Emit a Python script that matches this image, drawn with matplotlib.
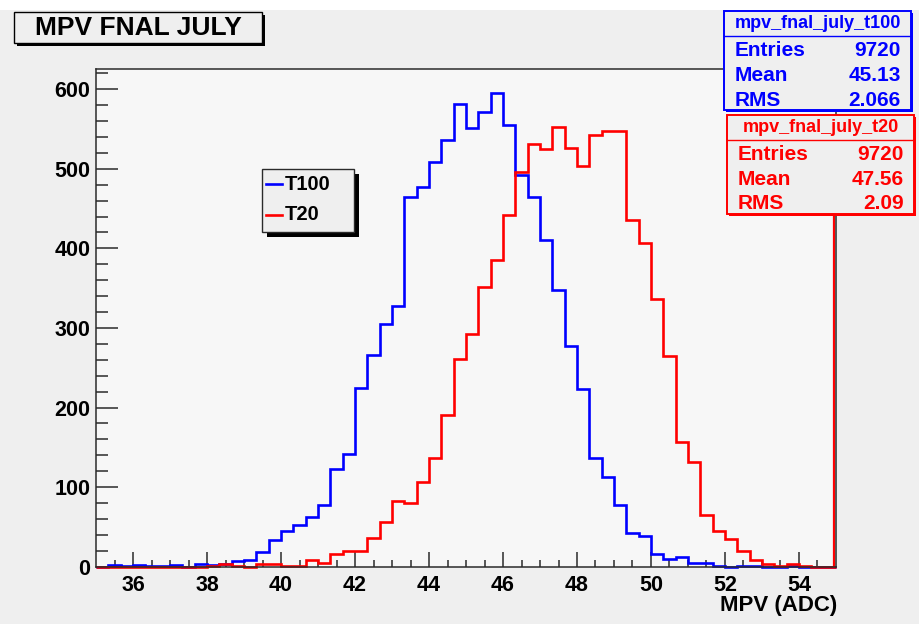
import numpy as np
import matplotlib
matplotlib.use("Agg")
from matplotlib import pyplot as plt
from matplotlib.patches import Rectangle
from matplotlib.transforms import offset_copy

# Histogram binning: 60 bins from 35 to 55 ADC
x_lo, x_hi, n_bins = 35.0, 55.0, 60
edges = np.linspace(x_lo, x_hi, n_bins + 1)

# Bin contents (counts per bin)
t100_counts = [0, 2, 1, 2, 1, 1, 2, 0, 4, 2,
               4, 7, 8, 18, 33, 45, 53, 62, 78, 123,
               142, 224, 266, 305, 328, 465, 477, 509, 536, 581,
               551, 571, 595, 555, 492, 464, 411, 348, 277, 223,
               136, 113, 78, 42, 39, 16, 10, 12, 5, 5,
               1, 0, 1, 1, 0, 0, 1, 0, 0, 0]
t20_counts = [0, 0, 0, 0, 0, 0, 0, 0, 0, 1,
              4, 1, 0, 3, 3, 1, 1, 9, 5, 16,
              20, 20, 36, 56, 82, 80, 106, 136, 191, 261,
              292, 351, 386, 442, 496, 531, 525, 553, 526, 504,
              542, 548, 548, 436, 407, 337, 265, 157, 131, 65,
              45, 35, 20, 8, 3, 1, 3, 1, 0, 0]

# Stats box contents
stats = [
    ("mpv_fnal_july_t100", "9720", "45.13", "2.066", "#0000ff"),
    ("mpv_fnal_july_t20", "9720", "47.56", "2.09", "#ff0000"),
]
legend_labels = ["T100", "T20"]
x_ticks = [36, 38, 40, 42, 44, 46, 48, 50, 52, 54]
y_ticks = [0, 100, 200, 300, 400, 500, 600]

W, H = 920, 624
FONT = "Liberation Sans"
canvas_col = "#efefef"
frame_col = "#f7f7f7"
axis_col = "#2b2b2b"

fig = plt.figure(figsize=(W / 100, H / 100), dpi=100, facecolor="white")


def fx(x):
    return x / W


def fy(y):
    return 1 - y / H


def box(x0, y0, x1, y1, edge, lw=1.0, shadow=0, shadow_col=None, face=canvas_col, z=5):
    # box given in pixel coordinates measured from the top-left corner
    if shadow:
        fig.patches.append(Rectangle((fx(x0 + shadow), fy(y1 + shadow)),
                                     fx(x1 - x0), (y1 - y0) / H,
                                     transform=fig.transFigure, facecolor=shadow_col,
                                     edgecolor="none", zorder=z))
    fig.patches.append(Rectangle((fx(x0), fy(y1)), fx(x1 - x0), (y1 - y0) / H,
                                 transform=fig.transFigure, facecolor=face,
                                 edgecolor=edge, linewidth=lw, zorder=z + 0.1))


# canvas background (white strip along the top)
fig.patches.append(Rectangle((0, 0), 1, fy(10), transform=fig.transFigure,
                             facecolor=canvas_col, edgecolor="none", zorder=-10))

# frame
ax_l, ax_r, ax_t, ax_b = 96, 836, 69.3, 566.7
ax = fig.add_axes([fx(ax_l), fy(ax_b), fx(ax_r - ax_l), (ax_b - ax_t) / H])
ax.set_facecolor(frame_col)
ax.set_xlim(x_lo, x_hi)
ax.set_ylim(0, 625)

ax.stairs(t100_counts, edges, baseline=0, color="#0000ff", lw=1.9, clip_on=False, zorder=3)
ax.stairs(t20_counts, edges, baseline=0, color="#ff0000", lw=1.9, clip_on=False, zorder=4)
# red edge line just inside the right frame border, running up under the stats box
edge_trans = offset_copy(ax.transData, fig=fig, x=-1.6, y=0, units="dots")
ax.vlines(edges[-1], 0, 450, color="#ff0000", lw=1.6, clip_on=False, zorder=4,
          transform=edge_trans)

for s in ["top", "right", "left", "bottom"]:
    ax.spines[s].set_color(axis_col)
    ax.spines[s].set_linewidth(1.1)
    ax.spines[s].set_zorder(5)

ax.set_xticks(x_ticks)
ax.set_xticks(np.arange(35.5, 55, 0.5), minor=True)
ax.set_yticks(y_ticks)
ax.set_yticks(np.arange(0, 625, 20), minor=True)
ax.tick_params(axis="x", which="major", direction="in", length=10.5, width=1.1,
               color=axis_col, pad=6)
ax.tick_params(axis="x", which="minor", direction="in", length=5.2, width=1.1, color=axis_col)
ax.tick_params(axis="y", which="major", direction="in", length=16, width=1.1,
               color=axis_col, pad=4)
ax.tick_params(axis="y", which="minor", direction="in", length=8.5, width=1.1, color=axis_col)
for lab in ax.get_xticklabels() + ax.get_yticklabels():
    lab.set_fontfamily(FONT)
    lab.set_fontweight("bold")
    lab.set_fontsize(15.5)
    lab.set_color("black")

fig.text(fx(837), fy(606), "MPV (ADC)", ha="right", va="center",
         fontsize=16, fontweight="bold", family=FONT)

# title box
box(14, 12, 262, 43, "black", lw=1.0, shadow=3, shadow_col="black")
fig.text(fx(138), fy(28), "MPV FNAL JULY", ha="center", va="center",
         fontsize=19, fontweight="bold", family=FONT, zorder=10)

# legend
box(262, 169, 354, 232, axis_col, lw=1.0, shadow=5, shadow_col="black")
for i, (lab, col) in enumerate(zip(legend_labels, ["#0000ff", "#ff0000"])):
    yy = 184 + i * 31
    fig.add_artist(plt.Line2D([fx(266), fx(282)], [fy(yy), fy(yy)], color=col,
                              lw=1.9, transform=fig.transFigure, zorder=10))
    fig.text(fx(285), fy(yy), lab, ha="left", va="center", fontsize=14.5,
             fontweight="bold", family=FONT, zorder=10)

# stats boxes
for k, (name, entries, mean, rms, col) in enumerate(stats):
    x0 = 724 + 3 * k
    y0 = 11 + 104 * k
    x1, y1 = x0 + 187, y0 + 99
    box(x0, y0, x1, y1, col, lw=1.4, shadow=2, shadow_col=col, z=6)
    fig.add_artist(plt.Line2D([fx(x0), fx(x1)], [fy(y0 + 25), fy(y0 + 25)], color=col,
                              lw=1.0, transform=fig.transFigure, zorder=10))
    fig.text(fx((x0 + x1) / 2), fy(y0 + 13), name, ha="center", va="center",
             fontsize=13, fontweight="bold", family=FONT, color=col, zorder=10)
    rows = [("Entries", entries), ("Mean", mean), ("RMS", rms)]
    for r, (lab, val) in enumerate(rows):
        yy = y0 + 40 + 24.5 * r
        fig.text(fx(x0 + 11), fy(yy), lab, ha="left", va="center", fontsize=15,
                 fontweight="bold", family=FONT, color=col, zorder=10)
        fig.text(fx(x1 - 10), fy(yy), val, ha="right", va="center", fontsize=15,
                 fontweight="bold", family=FONT, color=col, zorder=10)

plt.savefig("out.png", dpi=100, facecolor=fig.get_facecolor())
